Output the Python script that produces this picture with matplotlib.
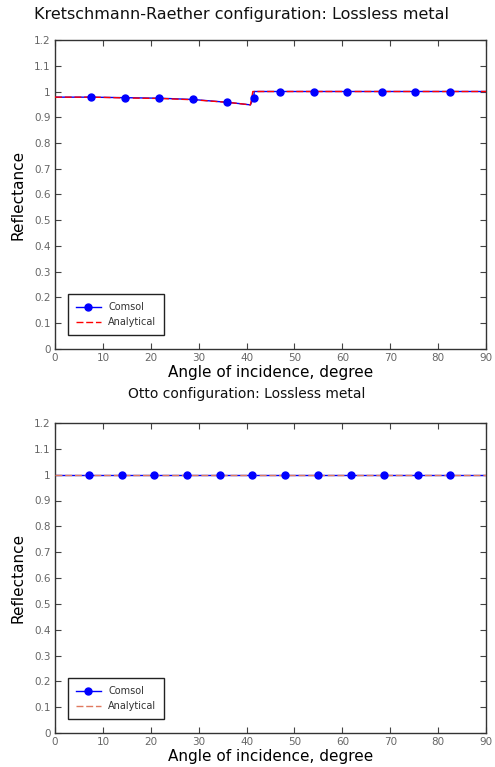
import matplotlib
matplotlib.use("Agg")
import matplotlib.pyplot as plt
from matplotlib.lines import Line2D

# ---- data ----
# Comsol marker samples
kr_comsol_angle = [7.5, 14.7, 21.8, 28.8, 36.0, 41.5, 47.0, 54.0, 61.0, 68.3, 75.2, 82.4]
kr_comsol_refl = [0.978, 0.976, 0.974, 0.969, 0.958, 0.973, 1.0, 1.0, 1.0, 1.0, 1.0, 1.0]
# Comsol curve
kr_comsol_curve_angle = [0, 7.5, 14.7, 21.8, 28.8, 36.0, 38.5, 40.8, 41.1, 41.5, 41.6, 90]
kr_comsol_curve_refl = [0.978, 0.978, 0.976, 0.974, 0.969, 0.958, 0.953, 0.948, 0.960, 0.973, 1.0, 1.0]
# Analytical curve
kr_anal_angle = [0, 7.5, 10.5, 14.7, 21.8, 28.8, 36.0, 38.5, 40.8, 41.1, 41.3, 90]
kr_anal_refl = [0.978, 0.978, 0.977, 0.975, 0.973, 0.968, 0.958, 0.953, 0.948, 0.975, 1.0, 1.0]

otto_comsol_angle = [7.1, 13.9, 20.7, 27.6, 34.4, 41.2, 48.1, 55.0, 61.9, 68.7, 75.7, 82.4]
otto_comsol_refl = [1.0] * 12
otto_comsol_curve_angle = [0, 90]
otto_comsol_curve_refl = [1.0, 1.0]
otto_anal_angle = [0, 90]
otto_anal_refl = [1.0, 1.0]

xticks = [0, 10, 20, 30, 40, 50, 60, 70, 80, 90]
yticks = [0, 0.1, 0.2, 0.3, 0.4, 0.5, 0.6, 0.7, 0.8, 0.9, 1.0, 1.1, 1.2]
yticklabels = ["0", "0.1", "0.2", "0.3", "0.4", "0.5", "0.6", "0.7", "0.8", "0.9", "1", "1.1", "1.2"]

plt.rcParams['font.family'] = ['DejaVu Sans']

fig = plt.figure(figsize=(4.95, 7.67), dpi=100)
W, H = 495, 767


def make_axes(left, top, right, bottom):
    return fig.add_axes([left / W, 1 - bottom / H, (right - left) / W, (bottom - top) / H])


def style(ax):
    ax.set_xlim(0, 90)
    ax.set_ylim(0, 1.2)
    ax.set_xticks(xticks)
    ax.set_yticks(yticks)
    ax.set_yticklabels(yticklabels)
    ax.tick_params(direction='in', length=4, width=0.8, top=True, right=True,
                   labelsize=7.5, labelcolor='#666666', color='#444444', pad=3)
    for s in ax.spines.values():
        s.set_color('#333333')
        s.set_linewidth(1.0)
    ax.set_ylabel('Reflectance', fontsize=11, labelpad=6)
    ax.set_xlabel('Angle of incidence, degree', fontsize=11, labelpad=1)


def draw(ax, c_ang, c_ref, cc_ang, cc_ref, a_ang, a_ref, acolor):
    ax.plot(cc_ang, cc_ref, '-', color='blue', linewidth=1.0, zorder=2)
    ax.plot(c_ang, c_ref, 'o', color='blue', markersize=5, zorder=4)
    ax.plot(a_ang, a_ref, '--', color=acolor, linewidth=1.0, dashes=(5, 2), zorder=3)
    handles = [Line2D([], [], color='blue', marker='o', markersize=5, linewidth=1.0),
               Line2D([], [], color=acolor, linestyle='--', dashes=(5, 2), linewidth=1.0)]
    leg = ax.legend(handles, ['Comsol', 'Analytical'], loc='lower left', fontsize=7,
                    fancybox=False, framealpha=1, edgecolor='#222222', borderpad=0.8,
                    handlelength=2.5, bbox_to_anchor=(0.02, 0.03))
    leg.get_frame().set_linewidth(1.0)
    for t in leg.get_texts():
        t.set_color('#333333')


ax1 = make_axes(55, 40, 486, 349)
draw(ax1, kr_comsol_angle, kr_comsol_refl, kr_comsol_curve_angle, kr_comsol_curve_refl,
     kr_anal_angle, kr_anal_refl, 'red')
style(ax1)

ax2 = make_axes(55, 423, 486, 733)
draw(ax2, otto_comsol_angle, otto_comsol_refl, otto_comsol_curve_angle, otto_comsol_curve_refl,
     otto_anal_angle, otto_anal_refl, '#e07a5f')
style(ax2)

fig.text(241 / W, 1 - 15 / H, 'Kretschmann-Raether configuration: Lossless metal',
         ha='center', va='center', fontsize=11.5, color='#111111')
fig.text(247 / W, 1 - 394 / H, 'Otto configuration: Lossless metal',
         ha='center', va='center', fontsize=10, color='#111111')

fig.savefig('out.png', dpi=100)
